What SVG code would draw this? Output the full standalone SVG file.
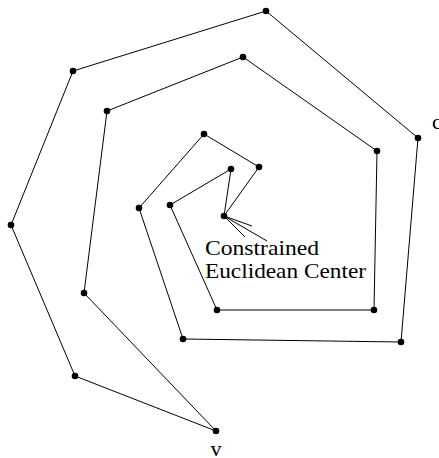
<svg xmlns="http://www.w3.org/2000/svg" width="439" height="458" viewBox="0 0 439 458">
  <style>
    .edge { fill: none; stroke: #000; stroke-width: 1; }
    .pt { fill: #000; }
    .lbl { font-family: "Liberation Serif", "Times New Roman", serif; font-size: 22px; fill: #000; }
  </style>
  <rect width="439" height="458" fill="#fff"/>
  <g id="connectors">
    <polyline class="edge" points="216,431 75,376 11,225 73,71 266,11 418,138 401,342 183,339 139,208 204,134 259,167 224,216 231,169 170,205 217,310 374,310 377,151 243,57 107,111 84,293 216,431"/>
    <line class="edge" x1="224" y1="216" x2="252" y2="226"/>
    <line class="edge" x1="224" y1="216" x2="245" y2="237"/>
    <line class="edge" x1="224" y1="216" x2="267" y2="241"/>
  </g>
  <g id="v"><circle class="pt" cx="216" cy="431" r="3.3"/><text class="lbl" x="216" y="456" text-anchor="middle">v</text></g>
  <g id="p1"><circle class="pt" cx="75" cy="376" r="3.3"/></g>
  <g id="p2"><circle class="pt" cx="11" cy="225" r="3.3"/></g>
  <g id="p3"><circle class="pt" cx="73" cy="71" r="3.3"/></g>
  <g id="p4"><circle class="pt" cx="266" cy="11" r="3.3"/></g>
  <g id="c"><circle class="pt" cx="418" cy="138" r="3.3"/><text class="lbl" x="432" y="129">c</text></g>
  <g id="p6"><circle class="pt" cx="401" cy="342" r="3.3"/></g>
  <g id="p7"><circle class="pt" cx="183" cy="339" r="3.3"/></g>
  <g id="p8"><circle class="pt" cx="139" cy="208" r="3.3"/></g>
  <g id="p9"><circle class="pt" cx="204" cy="134" r="3.3"/></g>
  <g id="p10"><circle class="pt" cx="259" cy="167" r="3.3"/></g>
  <g id="center"><circle class="pt" cx="224" cy="216" r="3.3"/>
    <text class="lbl" x="205" y="255" textLength="114" lengthAdjust="spacingAndGlyphs">Constrained</text>
    <text class="lbl" x="205" y="278" textLength="161" lengthAdjust="spacingAndGlyphs">Euclidean Center</text>
  </g>
  <g id="p12"><circle class="pt" cx="231" cy="169" r="3.3"/></g>
  <g id="p13"><circle class="pt" cx="170" cy="205" r="3.3"/></g>
  <g id="p14"><circle class="pt" cx="217" cy="310" r="3.3"/></g>
  <g id="p15"><circle class="pt" cx="374" cy="310" r="3.3"/></g>
  <g id="p16"><circle class="pt" cx="377" cy="151" r="3.3"/></g>
  <g id="p17"><circle class="pt" cx="243" cy="57" r="3.3"/></g>
  <g id="p18"><circle class="pt" cx="107" cy="111" r="3.3"/></g>
  <g id="p19"><circle class="pt" cx="84" cy="293" r="3.3"/></g>
</svg>
